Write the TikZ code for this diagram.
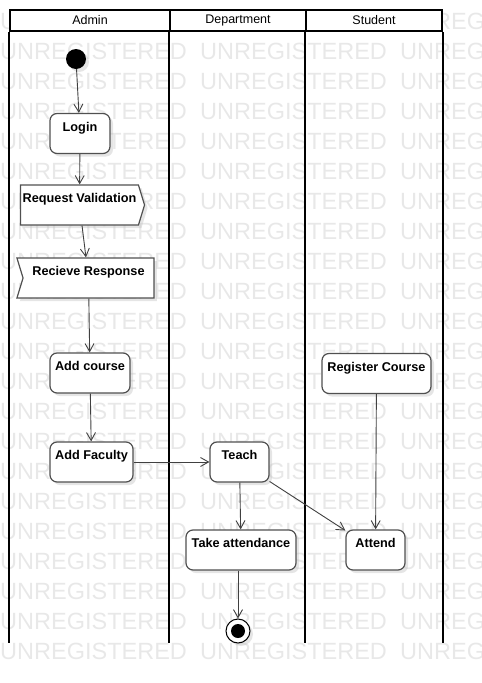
\documentclass[tikz,border=0pt]{standalone}
\usepackage{fontspec}
\setmainfont{Liberation Sans}
\usetikzlibrary{arrows.meta,shapes.symbols,shadows}
\definecolor{edgegray}{HTML}{404040}
\definecolor{boxgray}{HTML}{505050}
\definecolor{markgray}{HTML}{E8E8E8}
\tikzset{
    watermark/.style={anchor=west,inner sep=0pt,text=markgray,font=\fontsize{23.5}{24}\selectfont},
    lanehead/.style={draw=black,line width=2pt,fill=white,minimum height=21pt,inner sep=0pt,font=\fontsize{12.5}{14}\selectfont},
    lane/.style={line width=2pt},
    act/.style={draw=boxgray,line width=1.2pt,fill=white,rounded corners=7pt,
        font=\bfseries\fontsize{12.7}{14}\selectfont,inner xsep=0pt,inner ysep=3pt,
        text height=14.5pt,text depth=19.5pt,minimum height=40pt,
        drop shadow={shadow xshift=3pt,shadow yshift=-3pt,fill=black!25,opacity=.4}},
    sendsig/.style={act,sharp corners,shape=signal,signal to=east,signal pointer angle=146},
    recvsig/.style={act,sharp corners,shape=signal,signal from=west,signal to=nowhere,signal pointer angle=146},
    startnode/.style={circle,fill=black,minimum size=20pt,inner sep=0pt,
        drop shadow={shadow xshift=3pt,shadow yshift=-3pt,fill=black!25,opacity=.4}},
    endnode/.style={circle,draw=black,line width=1pt,fill=white,minimum size=24pt,inner sep=0pt,
        drop shadow={shadow xshift=3pt,shadow yshift=-3pt,fill=black!25,opacity=.4},
        path picture={\fill[black] (path picture bounding box.center) circle (7pt);}},
    flow/.style={draw=edgegray,line width=0.9pt,-{Straight Barb[length=8pt,width=9pt]}}
}
\begin{document}
\begin{tikzpicture}[x=1pt,y=-1pt]
    \useasboundingbox (0,0) rectangle (482,683);
    % Watermark
        \begin{scope}
            \clip (0,0) rectangle (482,683);
            \foreach \r in {0,...,21}{
                \foreach \c in {0,1,2}{
                    \node[watermark] (wm\r\c) at (200*\c,21.5+30*\r) {UNREGISTERED};
                }
            }
        \end{scope}
    % Lanes
        \node[lanehead,minimum width=160pt] (admin) at (90,20.5) {Admin};
        \node[lanehead,minimum width=136pt] (dept) at (238,20.5) {Department};
        \node[lanehead,minimum width=136pt] (student) at (374,20.5) {Student};
        \foreach \l in {admin.south west,dept.south west,student.south west,student.south east}{
            \draw[lane] (\l) -- ++(0,611);
        }
    % Actions
        \node[startnode] (init) at (76,59) {};
        \node[act,minimum width=60pt] (login) at (80,133.5) {Login};
        \node[sendsig,minimum width=124pt] (reqval) at (79.5,205) {Request Validation};
        \node[recvsig,minimum width=137pt] (recv) at (88.5,278) {Recieve Response};
        \node[act,minimum width=80pt] (addcourse) at (90,373) {Add course};
        \node[act,minimum width=83pt] (addfac) at (91.5,462) {Add Faculty};
        \node[act,minimum width=59pt] (teach) at (239.5,462) {Teach};
        \node[act,minimum width=110pt] (takeatt) at (241,550) {Take attendance};
        \node[act,minimum width=109pt] (regcourse) at (376.5,373.5) {Register Course};
        \node[act,minimum width=59pt] (attend) at (375.5,550) {Attend};
        \node[endnode] (final) at (238,631) {};
    % Flow
        \foreach \a/\b in {init/login,login/reqval,reqval/recv,recv/addcourse,addcourse/addfac,
            addfac/teach,teach/takeatt,teach/attend,regcourse/attend}{
            \draw[flow] (\a) -- (\b);
        }
        \draw[flow] (takeatt.south -| final) -- (final);
\end{tikzpicture}
\end{document}
